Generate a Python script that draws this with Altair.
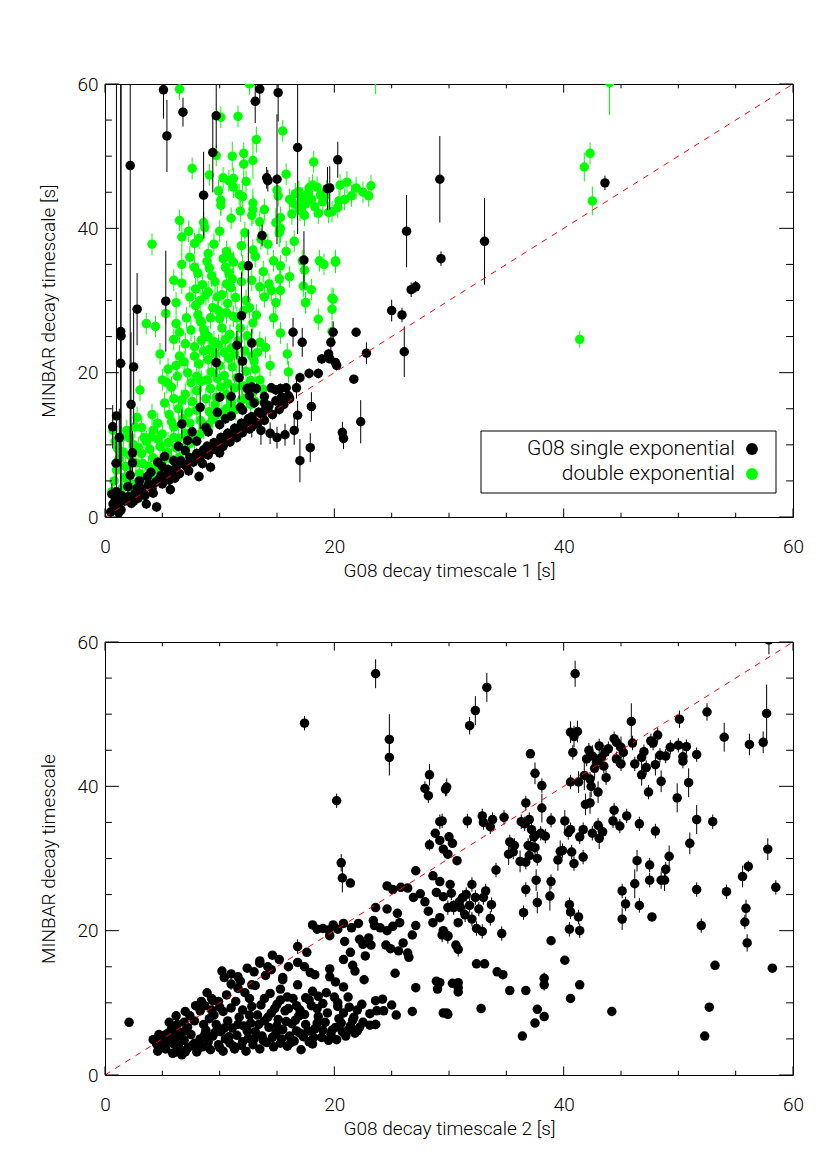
import altair as alt
import pandas as pd

FONT = "Roboto"
FW = 300

# ---------------- data (x, y, error) ----------------
TOP_GREEN = [
    (6.5, 59.3, 1.5), (10.1, 55.4, 1.5), (11.6, 55.5, 1.5), (15.5, 53.5, 1.5), (13.2, 52.3, 1.8),
    (12.6, 60.0, 1.5), (23.6, 60.6, 2.0), (44.0, 60.2, 4.5),
    (7.6, 48.3, 1.5), (9.1, 47.4, 1.5), (9.7, 50.1, 1.5), (11.1, 50.0, 2.0), (12.1, 50.4, 1.5),
    (12.1, 48.9, 2.0), (12.9, 49.4, 2.5), (10.3, 47.0), (10.8, 46.6), (11.2, 46.9), (11.2, 45.7),
    (11.7, 44.7), (12.0, 44.4, 2.0), (10.1, 43.9, 2.0), (10.1, 43.2), (11.0, 41.4), (11.8, 42.4),
    (12.9, 43.5, 2.0), (12.9, 42.6, 2.0), (12.8, 41.8), (13.9, 42.6), (13.5, 40.9),
    (15.0, 45.3), (15.1, 44.5), (15.3, 41.5), (14.9, 40.8, 2.0), (15.3, 40.0, 2.0), (15.2, 39.4, 2.0),
    (18.2, 49.2),
    (16.1, 44.0), (16.4, 43.5), (16.6, 44.8), (16.9, 45.1), (17.2, 44.2), (17.5, 43.4), (17.0, 42.5),
    (17.8, 45.6), (18.0, 44.0), (18.3, 43.0), (18.5, 45.7), (18.8, 44.6), (19.0, 43.7), (19.2, 44.5),
    (17.4, 41.8), (16.3, 42.0), (18.6, 42.1), (19.5, 42.2), (18.1, 46.0), (17.7, 44.8), (16.8, 43.1),
    (19.3, 45.2), (20.5, 46.0), (21.1, 46.4), (21.9, 45.6), (22.5, 45.0), (21.5, 44.5), (20.9, 44.0),
    (20.4, 43.8), (19.8, 42.3), (20.3, 42.9), (23.2, 45.9), (23.0, 44.5), (20.1, 35.5), (19.9, 30.2),
    (19.8, 25.7),
    (41.8, 48.5, 2.0), (42.3, 50.4, 1.5), (42.5, 43.8, 2.0), (41.4, 24.6, 1.2),
    (6.5, 41.1), (6.7, 38.8, 2.5), (7.3, 39.6), (4.1, 37.8), (7.8, 37.9), (8.2, 38.6), (8.6, 40.8),
    (8.7, 40.1), (10.0, 39.6), (12.2, 39.4), (11.9, 37.6), (14.2, 37.8), (13.1, 36.1), (6.7, 35.0),
    (8.9, 35.4), (10.6, 36.8), (10.9, 36.0), (11.2, 35.3), (10.5, 34.6), (10.8, 33.8), (11.1, 33.0),
    (10.6, 32.3), (11.0, 31.8), (10.3, 35.8),
    (14.7, 35.5), (15.3, 34.8), (16.1, 33.3), (15.2, 33.0), (17.2, 35.5), (17.4, 34.2), (17.3, 32.0),
    (17.5, 29.7), (18.7, 35.5), (19.1, 35.0), (20.1, 35.3), (19.8, 30.3),
    (6.0, 32.8), (6.7, 32.4), (6.2, 29.7), (7.8, 34.6), (8.1, 33.8), (8.5, 32.2), (9.3, 33.4),
    (9.1, 34.5), (12.0, 34.8), (11.9, 32.6), (12.8, 32.8), (13.5, 31.9), (14.3, 32.3), (14.5, 31.4),
    (13.9, 30.5), (15.3, 31.4),
    (3.6, 26.8), (4.4, 26.4), (5.3, 28.2), (6.2, 26.8), (6.0, 24.6), (6.5, 25.6), (7.9, 29.3),
    (8.1, 28.0), (8.4, 27.0), (8.6, 26.0), (8.7, 25.4), (8.3, 27.2), (9.0, 25.0), (9.5, 24.3),
    (10.0, 27.5), (10.6, 28.3), (11.2, 27.8), (9.4, 29.0), (9.8, 30.5), (8.8, 30.8), (10.2, 26.2),
    (10.9, 25.3), (11.5, 27.6), (11.8, 26.2), (12.4, 25.1), (13.5, 24.2), (12.9, 26.9), (12.1, 28.6),
    (14.7, 27.6), (15.3, 25.5), (15.9, 22.6), (14.9, 29.7), (17.5, 29.7), (18.6, 27.4), (19.8, 28.8),
    (18.0, 31.5), (16.0, 20.1),
    (4.8, 22.6), (5.5, 20.5), (5.4, 18.6), (6.2, 21.0), (6.5, 22.3), (3.05, 17.6), (2.8, 13.8),
    (4.1, 14.2), (3.4, 11.0), (4.0, 11.1), (2.9, 9.6),
    (5.0, 19.0), (5.8, 18.0), (6.3, 19.5), (6.9, 21.5), (7.2, 20.0), (7.5, 18.6), (7.8, 22.3),
    (8.2, 21.2), (8.6, 23.0), (9.0, 21.8), (9.3, 20.1), (9.6, 22.6), (10.0, 21.0), (10.4, 19.6),
    (10.8, 22.0), (11.1, 20.8), (11.5, 19.3), (11.9, 21.6), (12.3, 20.2), (12.7, 18.9), (13.1, 20.5),
    (13.5, 19.0), (13.8, 17.7), (7.0, 17.0), (7.6, 16.0), (8.0, 17.5), (8.4, 18.8), (8.8, 16.4),
    (9.2, 17.8), (9.7, 16.6), (10.1, 18.0), (10.6, 17.0), (6.4, 15.0), (5.6, 14.2), (5.2, 15.8),
    (4.6, 13.0), (4.2, 12.0), (5.0, 11.5), (6.0, 12.5), (6.8, 13.6), (7.3, 14.5), (8.0, 14.8),
    (3.6, 10.5), (4.8, 9.8), (5.5, 10.3), (6.4, 10.9), (7.0, 11.6),
    (0.6, 3.5), (0.8, 5.0), (1.0, 6.5), (1.2, 8.0), (1.1, 9.5), (0.9, 10.5), (1.4, 11.0), (1.6, 9.0),
    (1.8, 7.0), (2.0, 5.0), (2.2, 8.5), (2.5, 10.0), (2.7, 7.5), (3.0, 6.0), (3.2, 8.8), (1.5, 4.0),
    (1.3, 2.5), (2.4, 3.8), (3.5, 5.2), (3.8, 7.0), (4.2, 8.2), (4.5, 6.5), (5.0, 7.8), (5.4, 9.0),
    (5.8, 8.0), (6.2, 9.6), (6.5, 8.3), (7.0, 9.8), (7.4, 10.2), (7.8, 10.8), (8.2, 11.4), (8.6, 12.3),
    (9.0, 12.8), (9.4, 13.5), (9.8, 14.2), (10.2, 14.5), (10.6, 15.0), (11.0, 15.8), (11.4, 14.9),
    (11.9, 16.2), (12.3, 16.5), (12.7, 15.6), (13.1, 16.0), (2.6, 12.5), (1.9, 12.0), (0.7, 12.0),
    (7.4, 30.5), (7.9, 31.6), (8.3, 30.0), (9.0, 31.2), (9.6, 32.6), (10.2, 30.8), (10.7, 29.6),
    (11.4, 30.4), (12.3, 30.0), (12.6, 29.0), (13.2, 28.0), (9.9, 28.6), (9.2, 27.6), (7.1, 27.6),
    (7.5, 25.9), (7.0, 24.0), (7.8, 23.6), (8.4, 24.5), (9.1, 23.2), (9.9, 23.8), (10.5, 24.6),
    (11.0, 23.4), (11.6, 24.4), (12.2, 23.0), (12.8, 22.3), (13.3, 22.8), (14.0, 23.5), (14.4, 21.0),
    (13.0, 21.6), (11.3, 22.6), (10.4, 22.8), (8.0, 19.5), (8.9, 19.0), (9.8, 19.2), (10.7, 18.5),
    (11.3, 17.9), (12.0, 18.2), (12.9, 17.3), (6.0, 16.4), (6.7, 16.2), (7.4, 13.0), (8.3, 13.4),
    (9.1, 14.6), (9.6, 15.6), (5.8, 13.2), (4.6, 10.8), (3.2, 12.4), (3.9, 9.4), (2.1, 11.0),
    (1.7, 5.5), (2.8, 4.8), (3.3, 7.4), (4.0, 5.8), (6.0, 11.0), (12.9, 37.0), (13.6, 38.5),
    (9.5, 37.8), (9.0, 36.5), (7.4, 36.0), (13.8, 34.0), (15.8, 36.8), (16.5, 38.2), (12.3, 46.5),
    (9.9, 45.2), (15.8, 47.5),
]

TOP_BLACK = [
    (5.1, 59.2, 4.0), (5.4, 52.8, 5.0), (6.8, 56.1, 2.0), (9.7, 55.6, 4.5), (9.4, 50.5, 5.5),
    (13.1, 57.6, 3.0), (13.5, 59.3, 2.0), (15.1, 58.8, 4.0), (16.8, 51.2, 12.0), (20.3, 49.5, 2.5),
    (2.2, 48.7, 45.0), (8.6, 44.6, 6.0), (14.1, 47.0, 1.5), (14.2, 46.6, 1.5), (15.0, 46.8, 9.0),
    (19.4, 45.5, 3.0), (13.7, 39.0, 1.5), (12.5, 34.8, 5.0), (17.35, 35.6, 4.0), (5.3, 29.9, 7.0),
    (2.8, 28.8, 5.0),
    (1.37, 25.7, 40.0), (1.4, 25.1, 40.0), (1.0, 14.0, 46.0), (1.37, 21.3, 4.0), (2.5, 20.8, 8.0),
    (2.27, 15.6, 10.0), (0.67, 12.5, 3.0), (1.25, 11.0, 4.0), (0.96, 7.45, 3.0), (2.4, 8.9, 3.0),
    (2.4, 7.5, 2.0), (2.2, 5.8, 2.0), (0.6, 3.15, 1.5), (0.8, 2.0, 1.0), (1.0, 2.3, 1.0),
    (19.6, 45.6, 3.0), (29.2, 46.8, 6.0), (26.3, 39.6, 5.0), (29.3, 35.8, 1.0), (33.1, 38.2, 6.0),
    (43.6, 46.3, 1.0), (26.7, 31.5, 1.0), (27.1, 31.9, 0.8), (25.0, 28.6, 1.5), (25.9, 28.0, 1.0),
    (19.9, 25.6, 1.5), (21.9, 25.6, 0.5), (19.6, 21.9, 0.5), (20.1, 21.4, 0.5), (22.8, 22.7, 1.5),
    (26.1, 22.9, 3.5), (21.7, 19.1, 0.5), (22.3, 13.2, 3.0), (20.7, 11.7, 1.5), (20.8, 10.9, 1.5),
    (11.9, 27.9, 6.0), (11.5, 23.8, 2.0), (12.0, 21.6, 2.0), (11.7, 19.3, 3.0), (12.8, 24.1, 2.0),
    (9.7, 21.4, 2.0), (11.0, 16.7, 1.5), (12.4, 17.8), (12.8, 18.0), (13.2, 17.8), (13.9, 16.7),
    (14.5, 17.9), (14.9, 17.6), (15.3, 17.8), (15.8, 17.9), (16.7, 17.9, 1.5), (14.9, 16.1),
    (16.1, 16.4), (17.0, 19.3), (17.8, 19.9), (18.6, 19.9), (18.9, 21.9), (19.5, 22.6), (20.2, 21.0),
    (16.4, 25.6, 2.0), (17.2, 24.2, 2.0), (19.7, 24.2, 2.0), (18.0, 15.3, 2.0), (16.8, 14.1, 2.0),
    (17.9, 9.6, 2.0), (17.0, 7.8, 3.0), (12.8, 12.5, 1.5), (13.6, 12.0, 2.0), (14.4, 11.6, 1.5),
    (15.0, 11.0, 1.5), (15.7, 11.4, 1.5), (16.5, 12.0, 2.0), (6.7, 12.9, 2.0), (8.3, 15.2, 3.0),
    (10.0, 16.6),
    (0.5, 0.7), (0.8, 1.2), (1.1, 1.6), (1.4, 1.0), (1.7, 2.2), (2.0, 2.8), (2.3, 1.9), (2.6, 3.2),
    (2.9, 2.6), (3.2, 3.9), (3.5, 3.0), (3.6, 1.8), (3.8, 4.5), (4.1, 4.0), (4.4, 4.8), (4.5, 1.4),
    (4.7, 5.2), (5.0, 4.6), (5.3, 5.6), (5.6, 5.1), (5.7, 3.8), (5.9, 6.2), (6.2, 6.8), (6.5, 6.0),
    (6.8, 7.4), (7.1, 7.0), (7.4, 8.2), (7.7, 7.6), (8.0, 8.8), (8.2, 5.6), (8.3, 8.3), (8.6, 9.3),
    (8.9, 9.8), (9.2, 6.9), (9.2, 9.2), (9.5, 10.3), (9.8, 10.0), (10.0, 8.9), (10.1, 11.0),
    (10.4, 10.6), (10.7, 11.6), (11.0, 11.3), (11.3, 12.3), (11.6, 11.9), (11.9, 13.0), (12.2, 12.6),
    (12.5, 13.6), (12.8, 13.9), (13.1, 13.2), (13.4, 14.5), (13.7, 14.2), (14.0, 14.9), (14.3, 15.4),
    (6.0, 7.8), (7.0, 9.2), (8.0, 10.5), (9.0, 11.8), (10.0, 12.8), (11.0, 14.0), (12.0, 14.8),
    (13.0, 15.8), (3.0, 5.0), (4.0, 6.2), (5.0, 7.0), (2.0, 4.2), (1.0, 3.5), (9.8, 14.5), (7.6, 11.8),
    (1.5, 2.9), (2.5, 2.2), (3.3, 3.4), (4.2, 3.3), (4.9, 5.8), (5.5, 6.6), (6.1, 5.4), (6.6, 7.8),
    (7.3, 6.4), (7.9, 8.2), (8.5, 7.4), (9.0, 8.6), (9.6, 9.4), (10.3, 9.8), (10.9, 10.4),
    (11.5, 11.0), (12.0, 11.7), (12.6, 12.2), (13.3, 12.9), (13.9, 13.4), (14.6, 14.2), (15.2, 14.9),
    (15.6, 15.6), (16.0, 16.8), (15.4, 16.6), (5.2, 8.4), (6.4, 9.8), (7.2, 10.6), (8.8, 12.4),
    (10.5, 13.6), (11.8, 15.2), (12.6, 16.8), (13.9, 15.8), (2.8, 4.0), (3.7, 5.6), (4.6, 7.6),
    (0.7, 1.8), (1.2, 0.6),
]

BOTTOM = [
    (2.1, 7.3, 0.3), (23.6, 55.6, 2.0), (17.4, 48.75, 1.0), (24.8, 46.5, 3.5), (24.8, 44.0, 2.5),
    (28.3, 41.6, 1.5), (27.9, 39.7, 1.0), (28.2, 38.7, 1.0), (29.8, 39.9, 1.2), (20.2, 38.0, 1.0),
    (29.4, 35.2, 1.0), (28.3, 31.9, 0.8), (20.6, 29.4, 1.2), (20.7, 27.3, 2.0), (21.4, 26.6),
    (27.1, 28.3), (41.0, 55.6, 1.8), (33.3, 53.7, 2.0), (32.3, 50.5, 2.0), (31.8, 48.4, 1.2),
    (52.5, 50.3, 1.2), (57.7, 50.1, 4.0), (54.0, 46.8, 2.0), (56.2, 45.8, 1.5), (57.4, 46.1, 1.5),
    (50.1, 49.3, 1.2), (45.9, 49.0, 2.5), (37.1, 44.5), (37.5, 41.8, 1.5), (38.1, 40.1, 1.0),
    (36.7, 37.7, 1.0), (38.1, 37.0, 2.0), (29.7, 39.6, 1.0), (57.9, 60.3, 2.0),
    (40.6, 47.5, 1.5), (40.9, 46.9, 1.5), (41.2, 47.6, 1.5), (40.8, 44.7, 1.0), (40.6, 40.6, 1.0),
    (41.3, 40.6, 1.5),
    (41.8, 41.5, 2.0), (42.0, 43.8, 1.0), (42.2, 45.0, 1.0), (42.5, 44.2, 1.5), (42.7, 42.5, 1.5),
    (42.9, 43.5, 1.0), (43.1, 45.6, 1.0), (43.3, 44.0, 1.0), (43.5, 42.8, 1.0), (43.7, 41.2, 1.0),
    (43.9, 45.2, 1.0), (42.4, 40.0, 1.5), (43.0, 39.2, 1.5), (42.3, 41.0, 1.0), (43.6, 44.7, 1.0),
    (41.9, 37.5, 1.5), (42.3, 37.7, 1.5),
    (44.4, 46.6, 1.0), (44.6, 46.1, 1.0), (45.0, 45.4, 1.5), (45.0, 43.1, 1.0), (44.6, 43.8, 1.0),
    (45.2, 44.7, 1.0), (46.0, 46.0, 1.0), (46.2, 43.1, 1.0), (46.8, 44.0, 1.0), (47.0, 44.8, 1.0),
    (47.2, 42.6, 1.0), (46.8, 41.6, 1.5), (47.4, 39.2, 1.0), (47.6, 46.3, 1.0), (47.8, 46.0, 1.0),
    (48.2, 47.1, 1.0), (48.4, 44.3, 1.0), (48.0, 43.0, 1.5), (48.9, 44.2, 1.0), (48.5, 40.7, 1.5),
    (49.3, 45.4, 1.0), (50.0, 45.7, 1.0), (50.4, 44.1, 1.0), (50.4, 43.5, 1.0), (50.7, 45.5, 1.0),
    (49.9, 38.4, 2.0), (50.9, 40.5, 2.0), (51.6, 44.4, 1.0),
    (44.4, 36.7, 1.0), (44.3, 35.2, 1.0), (44.9, 34.5, 1.0), (45.5, 35.9, 1.0), (46.6, 34.8, 1.0),
    (48.0, 33.8, 1.0),
    (38.9, 35.3, 1.0), (40.1, 35.2, 1.5), (40.6, 34.0, 1.0), (40.4, 33.6, 1.0), (41.7, 34.0, 1.0),
    (41.4, 33.0, 1.0), (42.5, 33.5, 1.0), (43.4, 33.7, 1.0), (43.0, 34.6, 1.0), (43.1, 32.8, 1.5),
    (39.7, 31.0, 1.5), (39.9, 31.1, 1.0), (40.7, 30.9, 1.0), (41.7, 30.2, 1.0), (40.9, 29.3, 1.0),
    (39.5, 29.8, 1.5),
    (37.0, 35.4, 1.0), (36.3, 35.1, 1.0), (36.6, 34.8, 1.0), (34.8, 35.7, 1.0), (33.8, 35.4, 1.0),
    (33.0, 35.0, 1.0), (33.6, 34.4, 1.0), (32.9, 35.9, 1.0), (31.6, 35.2, 1.0), (29.2, 35.1, 1.0),
    (35.3, 32.3, 1.0), (35.7, 31.8, 1.0), (35.2, 30.6, 1.5), (35.6, 30.9, 1.0), (36.2, 29.6, 1.5),
    (36.7, 29.5, 1.0), (37.0, 30.4, 1.0), (37.1, 31.7, 1.0), (37.4, 33.0, 1.0), (37.2, 34.0, 1.0),
    (37.5, 33.2, 1.0), (37.7, 30.0, 1.0), (38.0, 33.5, 1.0), (38.4, 33.1, 1.0), (37.5, 31.5, 1.0),
    (36.9, 31.8, 1.0),
    (34.1, 28.4, 1.0), (36.7, 25.7, 1.0), (37.6, 27.0, 1.5), (38.8, 24.8, 2.0), (38.9, 26.8, 1.0),
    (37.7, 23.9, 1.5), (36.5, 22.5, 1.0), (34.6, 19.6, 1.0), (33.0, 24.6, 1.0), (33.7, 23.6, 1.0),
    (33.6, 21.7, 1.0), (32.3, 24.6, 1.0), (32.4, 20.3, 1.0), (32.9, 19.9, 1.0), (32.0, 26.4, 1.0),
    (31.2, 24.6, 1.0), (31.0, 23.2, 1.0), (30.4, 23.2, 1.0), (29.9, 23.2, 1.0), (29.4, 19.4, 1.0),
    (29.9, 19.2, 1.0), (30.8, 17.4, 1.0), (31.4, 22.2, 1.0), (31.8, 23.5, 1.0), (30.9, 24.0, 1.0),
    (31.5, 25.0, 1.0), (32.6, 23.0, 1.0), (33.2, 25.5, 1.0), (30.2, 25.2, 1.0), (32.0, 21.6, 1.0),
    (32.4, 15.4), (33.1, 15.4), (34.2, 14.3), (34.7, 13.9), (35.3, 11.7), (36.7, 11.7), (29.2, 12.8),
    (30.8, 12.8), (30.8, 11.5), (29.0, 11.9), (29.8, 8.6), (29.9, 8.4), (32.8, 9.2), (36.4, 5.4),
    (37.5, 7.2), (37.7, 9.1), (38.3, 8.1), (38.3, 12.5, 0.8), (38.3, 13.4, 0.8), (38.9, 18.6),
    (40.1, 15.9), (40.6, 10.6), (41.4, 12.5), (40.5, 23.6, 1.0), (40.6, 22.6, 1.0), (41.3, 21.9, 1.0),
    (41.4, 20.0, 1.0), (40.5, 20.2, 1.0), (44.2, 8.8),
    (45.1, 25.5, 1.0), (45.4, 23.7, 1.0), (45.1, 21.6, 1.5), (46.2, 26.5, 2.0), (46.4, 29.7, 1.5),
    (46.6, 23.5, 1.0), (47.5, 29.1, 1.0), (47.5, 27.0, 1.0), (47.7, 21.9), (48.5, 27.0, 1.2),
    (48.8, 27.0, 1.5), (48.9, 28.5, 1.0), (49.2, 30.3, 1.5), (51.0, 32.1, 1.5), (51.6, 25.7, 1.0),
    (52.0, 20.7, 1.0), (53.2, 15.2), (52.7, 9.4), (52.3, 5.4), (53.0, 35.1, 1.0), (51.6, 35.4, 2.0),
    (54.2, 25.4, 1.0), (55.6, 27.5, 1.5), (56.1, 28.9, 0.8), (55.9, 23.1, 1.2), (55.8, 21.2, 1.0),
    (56.0, 18.3, 1.2), (57.8, 31.3, 1.5), (58.5, 26.0, 1.0), (58.2, 14.8),
    (18.1, 20.8), (18.5, 20.2), (19.0, 20.3), (19.5, 20.1), (19.9, 20.8), (20.3, 20.2), (20.8, 21.0),
    (21.5, 20.4), (22.1, 21.0), (19.6, 19.3), (20.9, 18.5), (21.4, 17.0), (20.8, 16.0), (21.6, 15.2),
    (21.8, 14.4), (22.2, 18.8), (22.5, 18.1), (23.0, 19.0), (23.2, 18.0), (22.7, 16.5),
    (23.4, 21.4), (23.5, 20.7), (24.0, 20.4), (24.6, 20.0), (25.1, 20.6), (24.5, 18.0), (24.9, 17.5),
    (25.6, 17.2), (26.0, 18.3), (26.5, 16.3), (26.4, 16.9), (26.8, 19.4),
    (23.6, 23.2), (24.6, 23.0), (25.5, 22.4), (25.7, 21.1), (26.9, 24.6), (27.5, 25.1), (27.9, 24.0),
    (28.2, 22.7), (27.1, 20.7), (24.6, 26.2), (25.1, 25.7), (25.8, 26.0), (26.4, 25.9),
    (28.6, 27.6), (28.9, 25.3), (29.2, 26.8), (29.5, 24.7), (30.1, 26.4), (30.4, 23.5), (28.6, 21.1),
    (29.2, 21.8), (29.5, 20.0), (29.9, 19.3), (30.6, 18.0), (30.8, 21.1),
    (28.8, 33.5), (29.2, 32.5), (29.5, 31.3), (30.0, 33.0), (30.3, 32.1), (30.7, 29.7), (29.9, 30.6),
    (16.8, 17.8, 1.0), (17.6, 17.0), (16.8, 15.6), (17.4, 15.0), (17.9, 14.2), (18.3, 13.9),
    (19.6, 14.7), (13.5, 15.8), (14.5, 14.6), (15.5, 13.5), (14.2, 15.0),
    (10.4, 13.5), (11.0, 12.6, 0.8), (11.6, 12.0), (12.2, 11.4), (12.8, 12.5), (11.8, 13.0),
    (13.1, 12.4), (14.4, 11.3), (15.3, 11.9), (15.9, 10.8), (16.8, 12.5), (17.5, 10.7), (18.1, 11.6),
    (18.6, 10.9), (20.1, 12.9), (20.8, 12.2), (19.6, 13.6), (22.6, 13.2), (23.6, 10.3), (24.2, 10.5),
    (25.3, 14.1), (27.1, 12.1), (28.9, 13.0), (30.3, 12.7), (30.8, 12.1),
    (20.0, 10.8), (20.3, 9.5), (20.8, 8.6), (21.3, 9.4), (21.7, 8.0), (22.0, 9.0), (23.1, 8.5),
    (23.7, 8.9), (23.6, 7.0), (24.3, 8.9), (25.0, 9.7), (25.4, 8.3), (26.8, 8.8), (29.5, 8.6),
    (23.1, 6.9),
    (8.9, 11.4), (9.3, 10.6), (9.9, 10.2), (10.6, 11.1), (10.2, 14.4), (11.0, 14.0), (11.6, 13.6),
    (12.4, 14.8), (13.0, 14.3), (13.5, 15.5), (14.0, 13.8), (14.6, 16.6), (15.2, 16.0), (15.5, 13.2),
    (16.0, 15.0),
    (5.2, 5.5), (5.8, 6.4), (6.3, 7.0), (6.9, 7.3), (7.4, 8.2), (7.8, 7.5), (8.3, 8.9), (8.7, 9.6),
    (9.3, 9.0), (7.2, 6.6), (6.6, 5.9), (4.5, 4.3), (4.9, 4.9),
    (4.2, 4.9), (4.6, 3.3), (4.8, 4.2), (5.3, 3.6), (5.6, 4.6), (5.9, 3.0), (6.1, 5.3), (6.4, 4.0),
    (6.7, 2.8), (6.9, 4.8), (7.2, 3.7), (7.5, 5.6), (7.8, 4.4), (8.0, 3.2), (5.5, 5.8), (6.3, 6.0),
    (7.0, 6.1),
    (8.3, 5.0), (8.5, 3.9), (8.8, 6.2), (9.0, 4.6), (9.2, 3.5), (9.4, 5.4), (9.7, 7.0), (9.9, 4.2),
    (10.1, 6.0), (10.3, 3.3), (10.5, 5.0), (10.7, 7.5), (10.9, 4.4), (11.1, 6.5), (11.3, 3.6),
    (11.5, 5.5), (11.7, 8.0), (11.9, 4.1), (12.1, 6.8), (8.6, 7.0), (9.5, 8.3), (10.3, 8.8),
    (11.0, 9.3), (12.0, 9.0),
    (12.3, 3.3), (12.5, 5.1), (12.7, 7.2), (12.9, 4.2), (13.1, 6.0), (13.3, 8.3), (13.5, 3.6),
    (13.7, 5.4), (13.9, 7.5), (14.1, 4.5), (14.3, 6.6), (14.5, 8.6), (14.7, 3.9), (14.9, 5.8),
    (15.1, 7.7), (15.3, 4.4), (15.5, 6.3), (15.7, 8.9), (15.9, 4.0), (16.1, 5.4), (16.3, 7.1),
    (16.5, 4.7), (16.7, 6.1), (16.9, 8.2), (12.8, 9.5), (13.6, 9.7), (15.0, 9.8), (16.0, 9.2),
    (17.1, 3.5), (17.3, 5.3), (17.5, 7.0), (17.8, 4.6), (18.1, 4.3), (18.3, 6.4), (18.6, 8.1),
    (18.9, 5.2), (19.2, 7.3), (19.5, 4.8), (19.8, 6.2), (20.2, 4.9), (20.4, 7.8), (20.7, 6.0),
    (21.0, 5.4), (21.4, 6.8), (21.8, 5.8), (22.0, 6.1), (22.5, 7.3), (23.6, 7.0), (17.0, 9.0),
    (18.0, 9.6), (19.0, 9.9), (19.3, 11.4), (16.4, 10.6), (15.3, 10.4),
    (5.0, 3.9), (5.4, 5.0), (6.0, 4.3), (6.6, 5.1), (7.0, 3.2), (7.6, 4.1), (8.2, 3.8), (8.7, 5.6),
    (9.1, 7.8), (9.6, 5.9), (10.0, 3.8), (10.4, 6.5), (10.8, 5.3), (11.2, 4.0), (11.6, 7.0),
    (12.0, 4.6), (12.4, 6.1), (12.6, 8.3), (13.0, 5.0), (13.4, 7.0), (13.8, 4.8), (14.2, 8.0),
    (14.6, 5.2), (15.0, 6.8), (15.4, 5.0), (15.8, 7.4), (16.2, 4.5), (16.6, 7.6), (17.0, 5.8),
    (17.4, 8.4), (17.7, 6.1), (18.2, 5.2), (18.5, 7.2), (19.0, 6.2), (19.4, 8.6), (19.7, 5.6),
    (20.1, 6.6), (20.6, 7.2), (21.2, 6.2), (21.6, 7.6), (22.2, 6.6), (9.4, 10.3), (10.0, 9.4),
    (11.4, 10.2), (12.6, 10.6), (13.9, 10.6), (14.8, 9.2), (16.7, 9.6), (17.8, 10.4), (18.5, 9.2),
    (20.3, 10.0), (21.2, 10.8), (22.4, 9.8), (6.2, 8.2), (7.0, 8.8), (7.9, 9.6), (8.4, 10.2),
    (4.7, 5.6), (5.6, 7.3), (6.2, 3.2),
]

MAJOR_TICKS = [0, 20, 40, 60]
MINOR_TICKS = [5, 10, 15, 25, 30, 35, 45, 50, 55]
DIAG_X = [0, 60]
DIAG_Y = [0, 60]
LEGEND_LABELS = ["G08 single exponential", "double exponential"]
LEGEND_COLORS = ["#000000", "#00ff00"]

W, H = 688, 433


def frame(rows, default_err):
    recs = []
    for r in rows:
        e = r[2] if len(r) > 2 else default_err
        recs.append({"x": r[0], "y": r[1], "lo": r[1] - e, "hi": r[1] + e})
    return pd.DataFrame(recs)


xs = alt.Scale(domain=[0, 60], nice=False, zero=False)
ys = alt.Scale(domain=[0, 60], nice=False, zero=False)


def axes(xtitle, ytitle):
    xa = alt.Axis(values=MAJOR_TICKS, ticks=False, domain=False, grid=False, labelPadding=20,
                  title=xtitle, titlePadding=5, labelFlush=False, format="d",
                  labelFont=FONT, titleFont=FONT, labelFontSize=19, titleFontSize=19,
                  labelFontWeight=FW, titleFontWeight=FW, labelColor="black", titleColor="black")
    ya = alt.Axis(values=MAJOR_TICKS, ticks=False, domain=False, grid=False, labelPadding=7,
                  title=ytitle, titlePadding=18, labelFlush=False, format="d",
                  labelFont=FONT, titleFont=FONT, labelFontSize=19, titleFontSize=19,
                  labelFontWeight=FW, titleFontWeight=FW, labelColor="black", titleColor="black")
    return xa, ya


def tick_layers(xa, ya):
    tmaj = pd.DataFrame({"v": MAJOR_TICKS})
    tmin = pd.DataFrame({"v": MINOR_TICKS})
    out = []
    for d, lx, ly in [(tmaj, 8.6, 13.8), (tmin, 4.3, 6.9)]:
        X = alt.X("v:Q", scale=xs, axis=xa)
        Y = alt.Y("v:Q", scale=ys, axis=ya)
        out.append(alt.Chart(d).mark_rule(color="black", strokeWidth=1).encode(
            x=X, y=alt.value(H), y2=alt.value(H - lx)))
        out.append(alt.Chart(d).mark_rule(color="black", strokeWidth=1).encode(
            x=X, y=alt.value(0), y2=alt.value(lx)))
        out.append(alt.Chart(d).mark_rule(color="black", strokeWidth=1).encode(
            y=Y, x=alt.value(0), x2=alt.value(ly)))
        out.append(alt.Chart(d).mark_rule(color="black", strokeWidth=1).encode(
            y=Y, x=alt.value(W), x2=alt.value(W - ly)))
    return out


def series_layers(d, color, xa, ya):
    err = alt.Chart(d).mark_rule(color=color, strokeWidth=1, clip=True).encode(
        x=alt.X("x:Q", scale=xs, axis=xa),
        y=alt.Y("lo:Q", scale=ys, axis=ya),
        y2="hi:Q")
    pts = alt.Chart(d).mark_circle(color=color, opacity=1, size=90, clip=True).encode(
        x=alt.X("x:Q", scale=xs, axis=xa),
        y=alt.Y("y:Q", scale=ys, axis=ya))
    return [err, pts]


def diag(xa, ya):
    d = pd.DataFrame({"x": DIAG_X, "y": DIAG_Y})
    return alt.Chart(d).mark_line(color="#ff0000", strokeWidth=1, strokeDash=[6, 6], clip=True).encode(
        x=alt.X("x:Q", scale=xs, axis=xa), y=alt.Y("y:Q", scale=ys, axis=ya))


# ---------------- top panel ----------------
xa1, ya1 = axes("G08 decay timescale 1 [s]", "MINBAR decay timescale [s]")
one = pd.DataFrame({"a": [0]})
legend = [
    alt.Chart(one).mark_rect(fill="white", stroke="black", strokeWidth=1).encode(
        x=alt.value(376), x2=alt.value(671), y=alt.value(347), y2=alt.value(409)),
]
for i, (lab, col) in enumerate(zip(LEGEND_LABELS, LEGEND_COLORS)):
    yy = 365 + 25 * i
    legend.append(alt.Chart(one).mark_text(align="right", baseline="middle", fontSize=21,
                                           font=FONT, fontWeight=FW, color="black").encode(
        x=alt.value(630), y=alt.value(yy), text=alt.value(lab)))
    legend.append(alt.Chart(one).mark_circle(color=col, opacity=1, size=140).encode(
        x=alt.value(647), y=alt.value(yy)))

top = alt.layer(
    *series_layers(frame(TOP_GREEN, 1.5), "#00ff00", xa1, ya1),
    *series_layers(frame(TOP_BLACK, 0.7), "#000000", xa1, ya1),
    diag(xa1, ya1),
    *tick_layers(xa1, ya1),
    *legend,
).properties(width=W, height=H)

# ---------------- bottom panel ----------------
xa2, ya2 = axes("G08 decay timescale 2 [s]", "MINBAR decay timescale")
bottom = alt.layer(
    *series_layers(frame(BOTTOM, 0.5), "#000000", xa2, ya2),
    diag(xa2, ya2),
    *tick_layers(xa2, ya2),
).properties(width=W, height=H)

chart = alt.vconcat(top, bottom, spacing=51).properties(
    padding={"left": 31, "top": 66, "right": 5, "bottom": 5},
    background="white",
).configure_view(stroke="black", strokeWidth=1)

chart.save("out.html", embed_options={"renderer": "svg", "actions": False})
